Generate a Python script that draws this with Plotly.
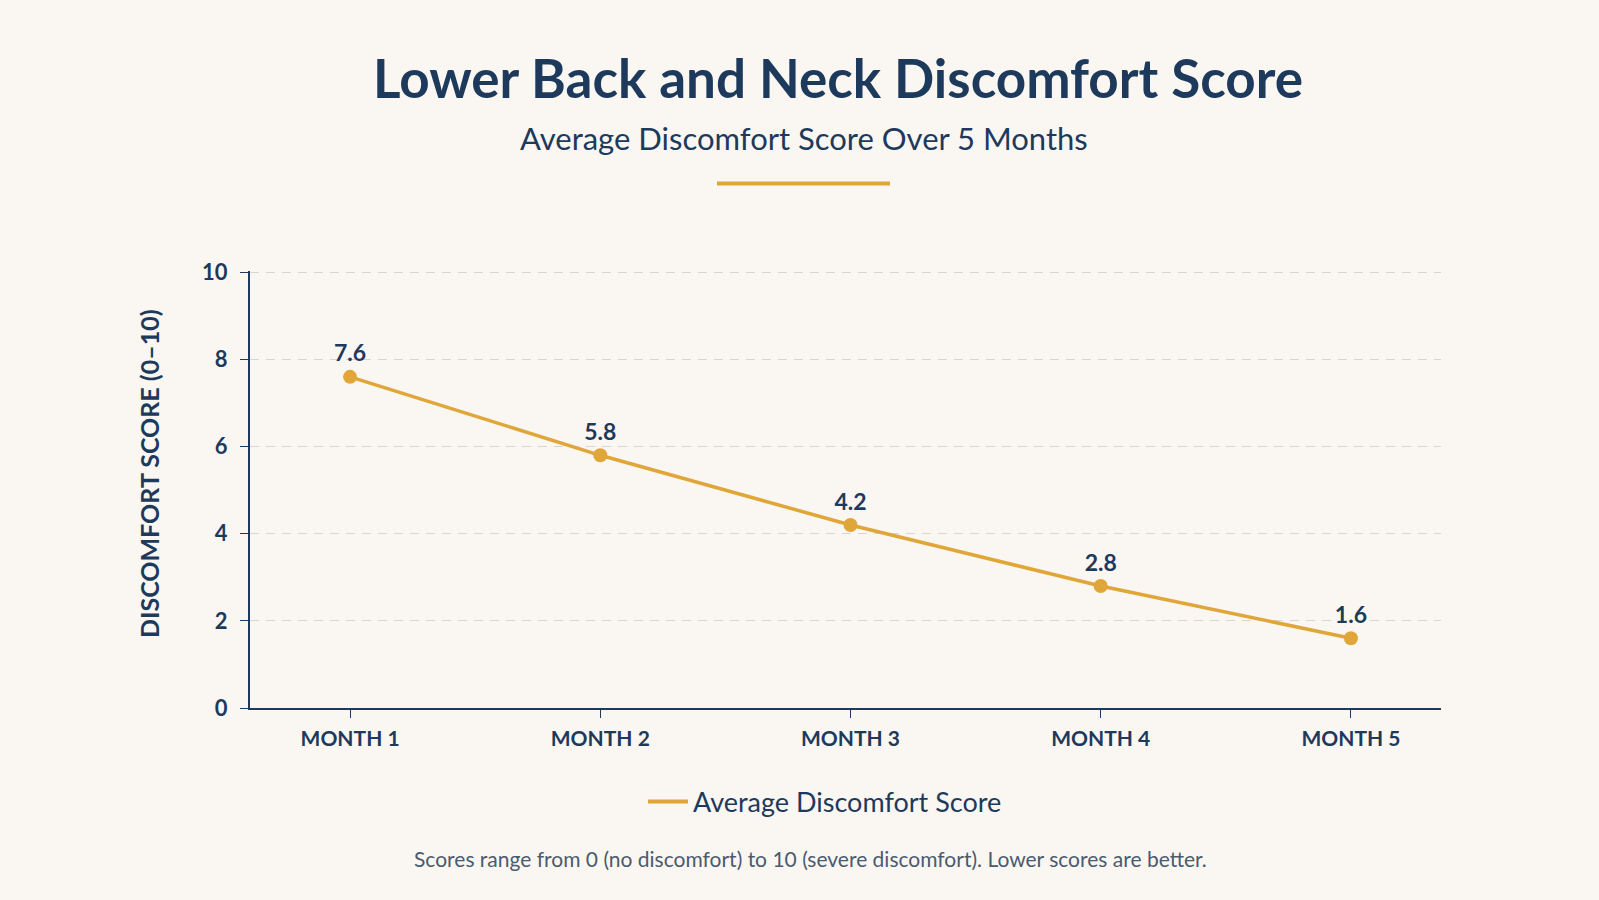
import plotly.graph_objects as go

months = ["MONTH 1", "MONTH 2", "MONTH 3", "MONTH 4", "MONTH 5"]
scores = [7.6, 5.8, 4.2, 2.8, 1.6]
score_labels = ["7.6", "5.8", "4.2", "2.8", "1.6"]
y_ticks = [0, 2, 4, 6, 8, 10]

NAVY = "#1d3a5c"
GOLD = "#e0a63a"
BG = "#faf7f2"
FONT = "Lato"

W, H = 1599, 900
L, R, T, B = 250, 158, 271, 192
pw, ph = W - L - R, H - T - B

def px(x):
    return (x - L) / pw

def py(y):
    return (H - B - y) / ph

fig = go.Figure()
fig.add_trace(go.Scatter(
    x=months, y=scores, mode="lines+markers+text",
    name="Average Discomfort Score", showlegend=False,
    line=dict(color=GOLD, width=3.5),
    marker=dict(color=GOLD, size=14),
    text=score_labels, textposition="top center",
    textfont=dict(family=FONT, size=23, color=NAVY, weight="bold"),
    cliponaxis=False,
))
# legend entry (line only)
fig.add_trace(go.Scatter(
    x=[None], y=[None], mode="lines", name="Average Discomfort Score",
    line=dict(color=GOLD, width=4), showlegend=True,
))

fig.update_layout(
    width=W, height=H,
    paper_bgcolor=BG, plot_bgcolor=BG,
    margin=dict(l=L, r=R, t=T, b=B),
    font=dict(family=FONT, color=NAVY),
    showlegend=True,
    legend=dict(orientation="h", x=px(825), xanchor="center", y=py(802), yanchor="middle",
                font=dict(family=FONT, size=27, color=NAVY), bgcolor="rgba(0,0,0,0)",
                itemwidth=40),
    xaxis=dict(
        range=[-0.4, 4.36], showline=True, linecolor=NAVY, linewidth=2,
        ticks="outside", tickcolor=NAVY, ticklen=8, tickwidth=1,
        showgrid=False, zeroline=False, ticklabelstandoff=3,
        tickfont=dict(family=FONT, size=21, color=NAVY, weight="bold"),
    ),
    yaxis=dict(
        range=[0, 10.03], tickvals=y_ticks, showline=True, linecolor=NAVY, linewidth=2,
        ticks="outside", tickcolor=NAVY, ticklen=8, tickwidth=1,
        showgrid=True, gridcolor="#d9d6d0", griddash="9px,7px", gridwidth=1,
        zeroline=False, ticklabelstandoff=8,
        tickfont=dict(family=FONT, size=22, color=NAVY, weight="bold"),
    ),
    annotations=[
        dict(text="Lower Back and Neck Discomfort Score", xref="paper", yref="paper",
             x=px(838), y=py(77), xanchor="center", yanchor="middle", showarrow=False,
             font=dict(family=FONT, size=53, color=NAVY, weight="bold")),
        dict(text="Average Discomfort Score Over 5 Months", xref="paper", yref="paper",
             x=px(804), y=py(138), xanchor="center", yanchor="middle", showarrow=False,
             font=dict(family=FONT, size=31, color=NAVY)),
        dict(text="DISCOMFORT SCORE (0–10)", xref="paper", yref="paper",
             x=px(149), y=py(474), xanchor="center", yanchor="middle", showarrow=False,
             textangle=-90,
             font=dict(family=FONT, size=25, color=NAVY, weight="bold")),
        dict(text="Scores range from 0 (no discomfort) to 10 (severe discomfort). Lower scores are better.",
             xref="paper", yref="paper",
             x=px(810), y=py(858), xanchor="center", yanchor="middle", showarrow=False,
             font=dict(family=FONT, size=21, color="#4a5a70")),
    ],
    shapes=[
        dict(type="line", xref="paper", yref="paper", x0=px(717), x1=px(890),
             y0=py(183.5), y1=py(183.5), line=dict(color=GOLD, width=4)),
    ],
)

fig.write_html("out.html")
